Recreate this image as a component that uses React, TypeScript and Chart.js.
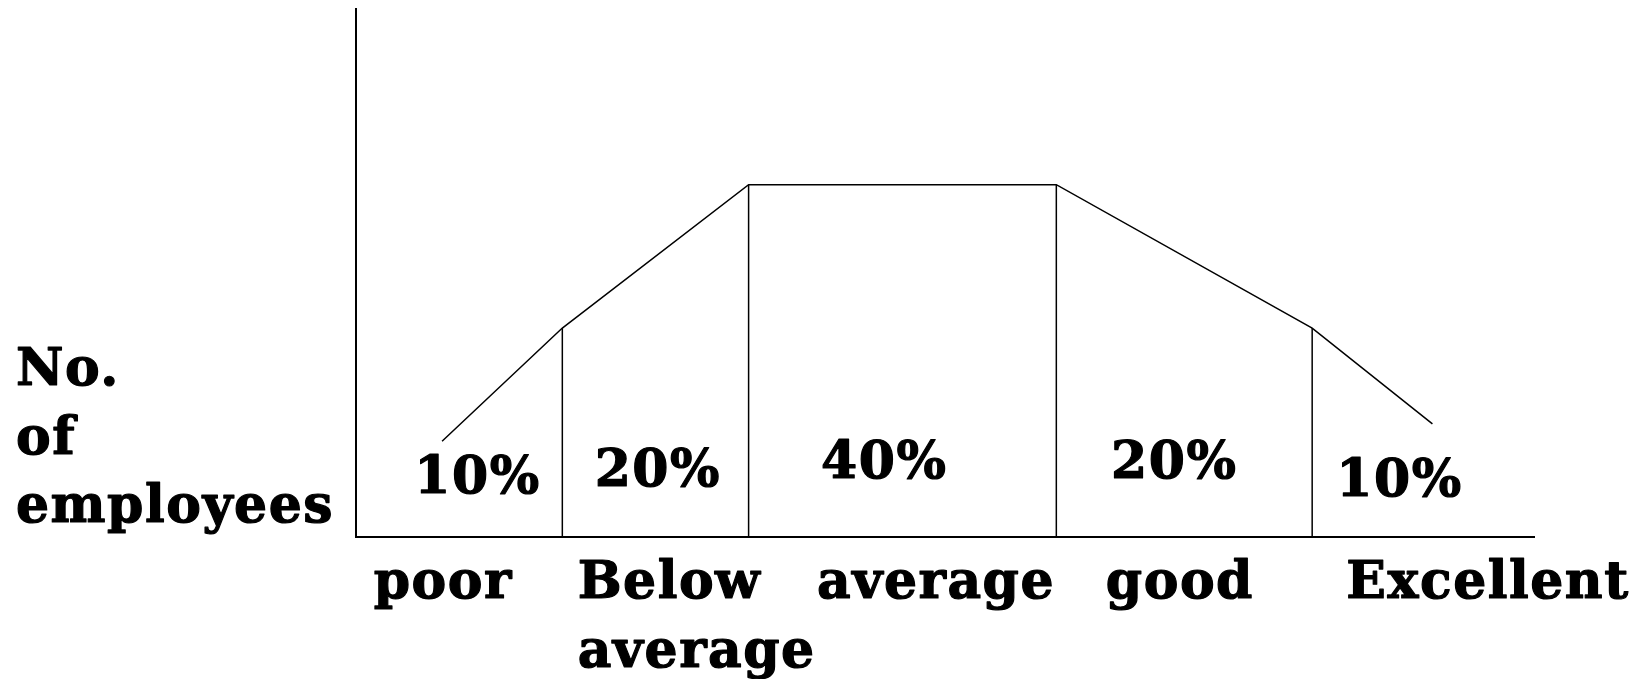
import React, { useEffect, useRef } from "react";
import { Chart, registerables } from "chart.js";

Chart.register(...registerables);

// Curve of the forced distribution (x along the rating axis, y = number of employees)
const curveX = [7.3, 17.5, 33.3, 59.4, 81.1, 91.3];
const curveY = [18.1, 39.5, 66.6, 66.6, 39.5, 21.4];

// Vertical dividers between rating bands
const dividerX = [17.5, 33.3, 59.4, 81.1];
const dividerY = [39.5, 66.6, 66.6, 39.5];

// Share labels inside each band
const percentLabels = ["10%", "20%", "40%", "20%", "10%"];
const percentX = [10.3, 25.6, 44.8, 69.4, 88.5];
const percentY = [8.3, 9.6, 11.2, 11.2, 7.8];

// Category labels under the axis (left edge positions in x units)
const categories: string[][] = [["poor"], ["Below", "average"], ["average"], ["good"], ["Excellent"]];
const categoryX = [1.5, 18.8, 39.1, 63.6, 84.0];

// Axis title lines
const yTitleLines = ["No.", "of", "employees"];

const FONT = 'bold 52px "DejaVu Serif"';

export default function App() {
  const ref = useRef<HTMLCanvasElement | null>(null);

  useEffect(() => {
    if (!ref.current) return;
    const line = (pts: { x: number; y: number }[], w: number) => ({
      data: pts,
      borderColor: "#000",
      borderWidth: w,
      pointRadius: 0,
      tension: 0,
      fill: false,
      clip: false as any,
    });

    const datasets: any[] = [
      line([{ x: 0, y: 100 }, { x: 0, y: 0 }, { x: 100, y: 0 }], 2),
      line(curveX.map((x, i) => ({ x, y: curveY[i] })), 1.5),
      ...dividerX.map((x, i) => line([{ x, y: 0 }, { x, y: dividerY[i] }], 1.5)),
    ];

    const textPlugin = {
      id: "texts",
      afterDatasetsDraw(chart: any) {
        const { ctx, scales, chartArea } = chart;
        const xs = scales.x;
        const ys = scales.y;
        ctx.save();
        ctx.fillStyle = "#000";
        ctx.strokeStyle = "#000";
        ctx.lineWidth = 1.2;
        ctx.lineJoin = "round";
        ctx.font = FONT;
        try { (ctx as any).letterSpacing = "1.5px"; } catch (e) {}
        const put = (t: string, x: number, y: number) => {
          ctx.fillText(t, x, y);
          ctx.strokeText(t, x, y);
        };
        ctx.textBaseline = "alphabetic";
        ctx.textAlign = "center";
        percentLabels.forEach((t, i) => {
          put(t, xs.getPixelForValue(percentX[i]), ys.getPixelForValue(percentY[i]));
        });
        ctx.textAlign = "left";
        categories.forEach((lines, i) => {
          lines.forEach((t, j) => {
            put(t, xs.getPixelForValue(categoryX[i]), chartArea.bottom + 61 + j * 69);
          });
        });
        const n = yTitleLines.length;
        yTitleLines.forEach((t, j) => {
          put(t, 16, chartArea.bottom - 15 - (n - 1 - j) * 68.5);
        });
        ctx.restore();
      },
    };

    const chart = new Chart(ref.current, {
      type: "line",
      data: { datasets },
      options: {
        animation: false,
        responsive: true,
        maintainAspectRatio: false,
        layout: { padding: { left: 356, top: 8, right: 109, bottom: 142 } },
        scales: {
          x: { type: "linear", min: 0, max: 100, display: false },
          y: { type: "linear", min: 0, max: 100, display: false },
        },
        plugins: { legend: { display: false }, tooltip: { enabled: false } },
      },
      plugins: [textPlugin],
    });
    return () => chart.destroy();
  }, []);

  return (
    <div style={{ position: "fixed", left: 0, top: 0, width: 1644, height: 679, background: "#fff" }}>
      <canvas ref={ref} />
    </div>
  );
}
